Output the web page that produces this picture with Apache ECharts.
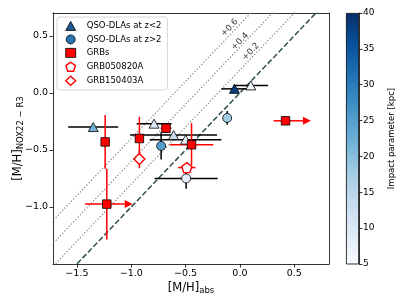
<!DOCTYPE html>
<html><head><meta charset="utf-8">
<script src="https://cdn.jsdelivr.net/npm/echarts@6/dist/echarts.min.js"></script>
<style>html,body{margin:0;padding:0;background:#fff}#c{width:407px;height:305px}</style>
</head><body><div id="c"></div>
<script>
// ---------- data ----------
const xTicks = [-1.5, -1.0, -0.5, 0.0, 0.5];
const yTicks = [-1.0, -0.5, 0.0, 0.5];
const cbTicksInterval = 5;

// QSO-DLAs at z<2 (triangles)
const qsoLowX = [-1.35, -0.79, -0.61, -0.50, -0.05, 0.10];
const qsoLowY = [-0.30, -0.27, -0.37, -0.41, 0.035, 0.065];
const qsoLowXerr = [0.23, 0.16, 0.40, 0.33, 0.12, 0.16];
const qsoLowYerr = [0, 0, 0, 0, 0, 0];
const qsoLowB = [22, 10, 13, 7, 38, 7];

// QSO-DLAs at z>2 (circles)
const qsoHighX = [-0.725, -0.117, -0.495];
const qsoHighY = [-0.465, -0.22, -0.75];
const qsoHighXerr = [0, 0.04, 0.29];
const qsoHighYerr = [0.12, 0.06, 0.09];
const qsoHighB = [25, 18, 8];

// GRBs (squares)
const grbX = [-1.24, -1.225, -0.925, -0.68, -0.445, 0.42];
const grbY = [-0.43, -0.975, -0.40, -0.31, -0.455, -0.245];
const grbXerrLo = [0, 0.20, 0, 0.05, 0.20, 0.11];
const grbXerrHi = [0, 0.165, 0, 0.05, 0.20, 0.16];
const grbYerrLo = [0.235, 0.31, 0.19, 0.04, 0.18, 0.035];
const grbYerrHi = [0.235, 0.31, 0.19, 0.04, 0.19, 0.035];
const grbXLowerLimit = [0, 1, 0, 0, 0, 1];

// GRB050820A (pentagon)
const g0508X = [-0.489], g0508Y = [-0.655], g0508Xerr = [0.08], g0508Yerr = [0.03];
// GRB150403A (diamond)
const g1504X = [-0.925], g1504Y = [-0.58], g1504Xerr = [0], g1504Yerr = [0.08];

// reference lines y = x + offset
const diagOffsets = [0, 0.2, 0.4, 0.6];
const diagLabels = ['+0.2', '+0.4', '+0.6'];
const diagLabelX = [0.10, 0.0, -0.095];
const diagLabelY = [0.36, 0.45, 0.57];

const bluesStops = ['#f7fbff','#deebf7','#c6dbef','#9ecae1','#6baed6','#4292c6','#2171b5','#08519c','#08306b'];

// ---------- chart ----------
const FONT = 'DejaVu Sans';
const xMin = -1.72, xMax = 0.82, yMin = -1.5, yMax = 0.7;
const fmt = v => (v < 0 ? '\u2212' : '') + Math.abs(v).toFixed(1);

function errRender(color) {
  return function (params, api) {
    const x = api.value(0), y = api.value(1);
    const xl = api.value(2), xh = api.value(3), yl = api.value(4), yh = api.value(5), lim = api.value(6);
    const st = {stroke: color, lineWidth: 1.5};
    const ch = [];
    if (xl > 0 || xh > 0) {
      const a = api.coord([x - xl, y]), b = api.coord([x + xh, y]);
      ch.push({type: 'line', shape: {x1: a[0], y1: a[1], x2: b[0], y2: b[1]}, style: st});
      if (lim) {
        ch.push({type: 'polygon', shape: {points: [[b[0], b[1] - 4], [b[0] + 8, b[1]], [b[0], b[1] + 4]]}, style: {fill: color}});
      }
    }
    if (yl > 0 || yh > 0) {
      const a = api.coord([x, y - yl]), b = api.coord([x, y + yh]);
      ch.push({type: 'line', shape: {x1: a[0], y1: a[1], x2: b[0], y2: b[1]}, style: st});
    }
    return {type: 'group', children: ch};
  };
}

const errQsoData = [];
qsoLowX.forEach((x, i) => errQsoData.push([x, qsoLowY[i], qsoLowXerr[i], qsoLowXerr[i], qsoLowYerr[i], qsoLowYerr[i], 0]));
qsoHighX.forEach((x, i) => errQsoData.push([x, qsoHighY[i], qsoHighXerr[i], qsoHighXerr[i], qsoHighYerr[i], qsoHighYerr[i], 0]));
const errGrbData = [];
grbX.forEach((x, i) => errGrbData.push([x, grbY[i], grbXerrLo[i], grbXerrHi[i], grbYerrLo[i], grbYerrHi[i], grbXLowerLimit[i]]));
g0508X.forEach((x, i) => errGrbData.push([x, g0508Y[i], g0508Xerr[i], g0508Xerr[i], g0508Yerr[i], g0508Yerr[i], 0]));
g1504X.forEach((x, i) => errGrbData.push([x, g1504Y[i], g1504Xerr[i], g1504Xerr[i], g1504Yerr[i], g1504Yerr[i], 0]));

const pentagon = 'path://M0,-1 L0.951,-0.309 L0.588,0.809 L-0.588,0.809 L-0.951,-0.309 Z';

const diagSeries = diagOffsets.map(off => ({
  type: 'line', xAxisIndex: 0, yAxisIndex: 0, silent: true, symbol: 'none', clip: true,
  data: [[-2, -2 + off], [1.5, 1.5 + off]],
  lineStyle: off === 0 ? {color: '#2f4f4f', width: 1.5, type: [5.5, 2.4]} : {color: '#808080', width: 1.2, type: [1.2, 2]},
  z: 1
}));

const option = {
  animation: false,
  textStyle: {fontFamily: FONT},
  grid: [
    {left: 53, right: 78, top: 13, bottom: 41, show: false, outerBoundsMode: 'none', containLabel: false},
    {left: 346, width: 13, top: 13, bottom: 41, show: false, outerBoundsMode: 'none', containLabel: false}
  ],
  xAxis: [
    {type: 'value', gridIndex: 0, min: xMin, max: xMax,
     name: '{a|[M/H]}{s|abs}', nameLocation: 'middle', nameGap: 17, nameMoveOverlap: false,
     nameTextStyle: {rich: {a: {fontSize: 11.5, fontFamily: FONT, color: '#000'}, s: {fontSize: 8.5, fontFamily: FONT, color: '#000', padding: [5, 0, 0, 0]}}},
     axisLine: {show: true, onZero: false, lineStyle: {color: '#000', width: 0.8}},
     axisTick: {show: true, length: 3.5, customValues: xTicks, lineStyle: {color: '#000', width: 0.8}},
     axisLabel: {customValues: xTicks, formatter: fmt, fontSize: 9.5, color: '#000', fontFamily: FONT, margin: 5},
     splitLine: {show: false}},
    {type: 'value', gridIndex: 0, min: xMin, max: xMax, position: 'top',
     axisLine: {show: true, onZero: false, lineStyle: {color: '#000', width: 0.8}},
     axisTick: {show: false}, axisLabel: {show: false}, splitLine: {show: false}},
    {type: 'category', gridIndex: 1, data: ['cb'], show: false}
  ],
  yAxis: [
    {type: 'value', gridIndex: 0, min: yMin, max: yMax,
     name: '{a|[M/H]}{s|NOX22 \u2212 R3}', nameLocation: 'middle', nameGap: 28, nameRotate: 90, nameMoveOverlap: false,
     nameTextStyle: {rich: {a: {fontSize: 11.5, fontFamily: FONT, color: '#000'}, s: {fontSize: 8.5, fontFamily: FONT, color: '#000', padding: [5, 0, 0, 0]}}},
     axisLine: {show: true, onZero: false, lineStyle: {color: '#000', width: 0.8}},
     axisTick: {show: true, length: 3.5, customValues: yTicks, lineStyle: {color: '#000', width: 0.8}},
     axisLabel: {customValues: yTicks, formatter: fmt, fontSize: 9.5, color: '#000', fontFamily: FONT, margin: 5},
     splitLine: {show: false}},
    {type: 'value', gridIndex: 0, min: yMin, max: yMax, position: 'right',
     axisLine: {show: true, onZero: false, lineStyle: {color: '#000', width: 0.8}},
     axisTick: {show: false}, axisLabel: {show: false}, splitLine: {show: false}},
    {type: 'value', gridIndex: 1, min: 5, max: 40, interval: cbTicksInterval, position: 'right',
     name: 'Impact parameter [kpc]', nameLocation: 'middle', nameGap: 28, nameRotate: 90,
     nameTextStyle: {fontSize: 8.5, fontFamily: FONT, color: '#000'},
     axisLine: {show: true, lineStyle: {color: '#000', width: 0.8}},
     axisTick: {show: true, length: 3.5, lineStyle: {color: '#000', width: 0.8}},
     axisLabel: {fontSize: 9, color: '#000', fontFamily: FONT, margin: 4},
     splitLine: {show: false}}
  ],
  visualMap: {
    type: 'continuous', show: false, min: 5, max: 40, dimension: 2, seriesIndex: [6, 7],
    inRange: {color: bluesStops}
  },
  legend: {
    orient: 'vertical', left: 57, top: 17,
    padding: [4, 6, 4, 8], itemGap: 3.7, itemWidth: 10, itemHeight: 9,
    backgroundColor: 'rgba(255,255,255,0.85)', borderColor: '#cccccc', borderWidth: 0.8, borderRadius: 3,
    textStyle: {fontSize: 8.5, fontFamily: FONT, color: '#000', padding: [0, 0, 0, 6]},
    data: [
      {name: 'QSO-DLAs at z<2', icon: 'triangle', itemStyle: {color: '#1f5a94', borderColor: '#000', borderWidth: 0.8}},
      {name: 'QSO-DLAs at z>2', icon: 'circle', itemStyle: {color: '#2b75b3', borderColor: '#000', borderWidth: 0.8}},
      {name: 'GRBs', icon: 'rect', itemStyle: {color: '#ff0000', borderColor: '#000', borderWidth: 0.8}},
      {name: 'GRB050820A', icon: pentagon, itemStyle: {color: '#fff', borderColor: '#ff0000', borderWidth: 1.4}},
      {name: 'GRB150403A', icon: 'diamond', itemStyle: {color: '#fff', borderColor: '#ff0000', borderWidth: 1.4}}
    ]
  },
  series: [
    ...diagSeries,                                   // 0-3
    {type: 'custom', name: 'errQSO', renderItem: errRender('#000'), data: errQsoData, encode: {x: 0, y: 1}, z: 2, silent: true}, // 4
    {type: 'custom', name: 'errGRB', renderItem: errRender('#ff0000'), data: errGrbData, encode: {x: 0, y: 1}, z: 2, silent: true}, // 5
    {type: 'scatter', name: 'QSO-DLAs at z<2', symbol: 'triangle', symbolSize: [10, 9],
     itemStyle: {color: '#1f5a94', borderColor: '#000', borderWidth: 0.8, opacity: 1},
     data: qsoLowX.map((x, i) => [x, qsoLowY[i], qsoLowB[i]]), z: 3}, // 6
    {type: 'scatter', name: 'QSO-DLAs at z>2', symbol: 'circle', symbolSize: 9,
     itemStyle: {color: '#2b75b3', borderColor: '#000', borderWidth: 0.8, opacity: 1},
     data: qsoHighX.map((x, i) => [x, qsoHighY[i], qsoHighB[i]]), z: 3}, // 7
    {type: 'scatter', name: 'GRBs', symbol: 'rect', symbolSize: 8.5,
     itemStyle: {color: '#ff0000', borderColor: '#000', borderWidth: 0.8, opacity: 1},
     data: grbX.map((x, i) => [x, grbY[i]]), z: 3},
    {type: 'scatter', name: 'GRB050820A', symbol: pentagon, symbolSize: 10,
     itemStyle: {color: '#fff', borderColor: '#ff0000', borderWidth: 1.4, opacity: 1},
     data: g0508X.map((x, i) => [x, g0508Y[i]]), z: 3},
    {type: 'scatter', name: 'GRB150403A', symbol: 'diamond', symbolSize: 11,
     itemStyle: {color: '#fff', borderColor: '#ff0000', borderWidth: 1.4, opacity: 1},
     data: g1504X.map((x, i) => [x, g1504Y[i]]), z: 3},
    {type: 'scatter', name: 'diagLabels', symbolSize: 0, silent: true,
     label: {show: true, position: 'inside', rotate: 46, fontSize: 8.5, fontFamily: FONT, color: '#000', formatter: p => p.name},
     data: diagLabels.map((t, i) => ({name: t, value: [diagLabelX[i], diagLabelY[i]]})), z: 3},
    {type: 'bar', name: 'colorbar', xAxisIndex: 2, yAxisIndex: 2, barWidth: '100%', silent: true,
     itemStyle: {color: {type: 'linear', x: 0, y: 1, x2: 0, y2: 0,
       colorStops: bluesStops.map((c, i) => ({offset: i / (bluesStops.length - 1), color: c}))},
       borderColor: '#000', borderWidth: 0.8},
     data: [40]}
  ]
};
const chart = echarts.init(document.getElementById('c'), null, {renderer: 'canvas'});
chart.setOption(option);
</script></body></html>
